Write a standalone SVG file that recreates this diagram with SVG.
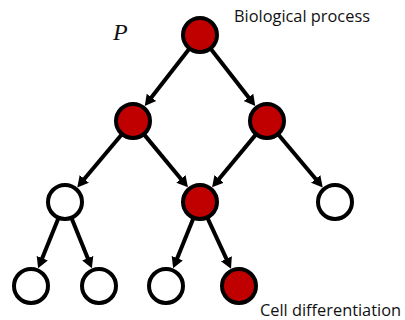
<svg xmlns="http://www.w3.org/2000/svg" width="405" height="320" viewBox="0 0 405 320">
<style>
.n{stroke:#000;stroke-width:4}
.r{fill:#C00000}
.w{fill:#fff}
.e{stroke:#000;stroke-width:4;fill:none;marker-end:url(#ah)}
.t{font-family:"Open Sans","Liberation Sans",sans-serif;font-size:16px;fill:#111}
</style>
<defs>
<marker id="ah" markerUnits="userSpaceOnUse" markerWidth="14" markerHeight="14" refX="5" refY="7" orient="auto">
<path d="M0,1 L11,7 L0,13 z" fill="#000"/>
</marker>
</defs>
<g id="connectors">
<line class="e" x1="189.5" y1="48.4" x2="148.4" y2="101.3"/>
<line class="e" x1="210.5" y1="48.4" x2="251.6" y2="101.3"/>
<line class="e" x1="122.1" y1="134" x2="81.1" y2="182.8"/>
<line class="e" x1="143.8" y1="134.1" x2="184.1" y2="182.7"/>
<line class="e" x1="256.2" y1="134.1" x2="215.9" y2="182.7"/>
<line class="e" x1="277.9" y1="134" x2="318.9" y2="182.8"/>
<line class="e" x1="58.6" y1="217.8" x2="40.4" y2="262.8"/>
<line class="e" x1="71.4" y1="217.8" x2="89.6" y2="262.8"/>
<line class="e" x1="193.6" y1="217.8" x2="175.4" y2="262.8"/>
<line class="e" x1="207.2" y1="217.4" x2="228.5" y2="263.3"/>
</g>
<g id="root"><circle class="n r" cx="200" cy="35" r="17"/></g>
<g id="l2a"><circle class="n r" cx="133" cy="121" r="17"/></g>
<g id="l2b"><circle class="n r" cx="267" cy="121" r="17"/></g>
<g id="l3a"><circle class="n w" cx="65" cy="202" r="17"/></g>
<g id="l3b"><circle class="n r" cx="200" cy="202" r="17"/></g>
<g id="l3c"><circle class="n w" cx="335" cy="202" r="17"/></g>
<g id="l4a"><circle class="n w" cx="31" cy="286" r="17"/></g>
<g id="l4b"><circle class="n w" cx="99" cy="286" r="17"/></g>
<g id="l4c"><circle class="n w" cx="166" cy="286" r="17"/></g>
<g id="l4d"><circle class="n r" cx="239" cy="286" r="17"/></g>
<g id="labels">
<text x="113" y="40" font-family="'Liberation Serif',serif" font-style="italic" font-size="24" fill="#111">P</text>
<text class="t" x="234" y="22" textLength="136" lengthAdjust="spacingAndGlyphs">Biological process</text>
<text class="t" x="260" y="316" textLength="141" lengthAdjust="spacingAndGlyphs">Cell differentiation</text>
</g>
</svg>
